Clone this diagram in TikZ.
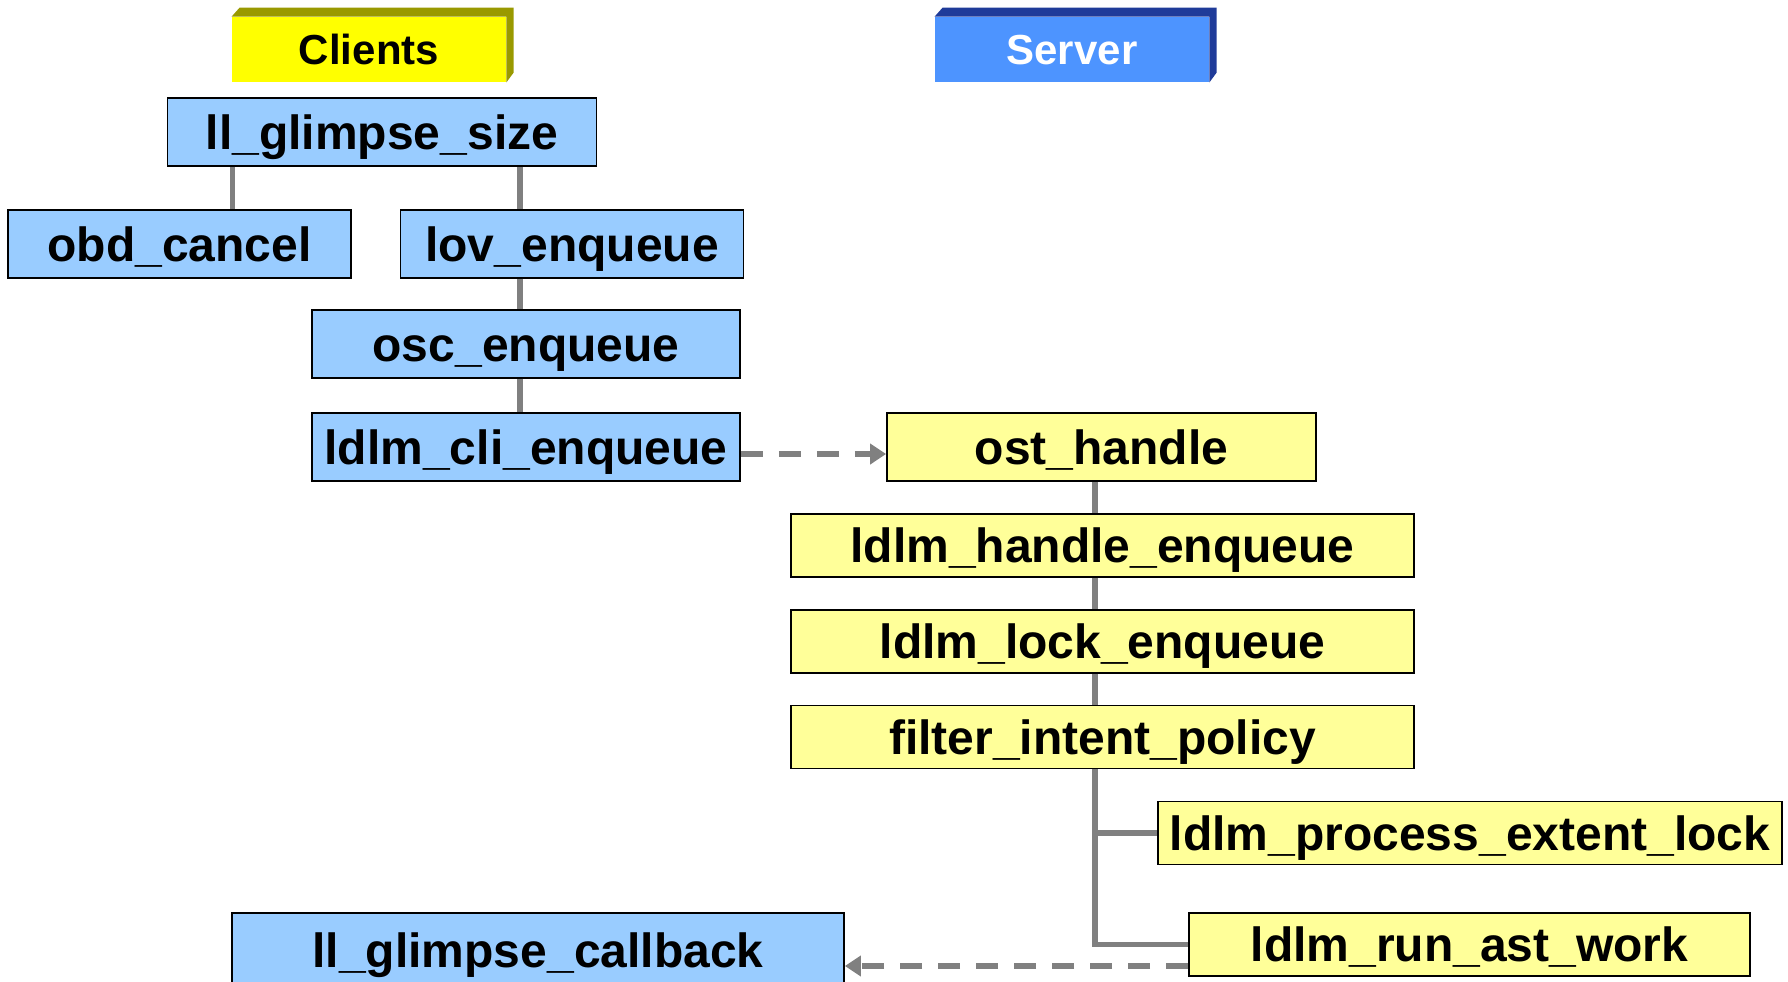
\documentclass[tikz,border=0pt]{standalone}
\usepackage{fontspec}
\setmainfont{Liberation Sans}
\usetikzlibrary{arrows.meta}
\definecolor{cliblue}{HTML}{99CCFF}
\definecolor{srvyellow}{HTML}{FFFF99}
\definecolor{hdyellow}{HTML}{FFFF00}
\definecolor{hdolive}{HTML}{999900}
\definecolor{hdblue}{HTML}{4D94FF}
\definecolor{hdnavy}{HTML}{1F3B99}
\definecolor{linkgray}{HTML}{808080}
\begin{document}
\begin{tikzpicture}[x=0.5pt,y=-0.5pt,
  fn/.style={draw=black,line width=0.9pt,font=\fontsize{24}{28}\selectfont\bfseries,text height=17.2pt,text depth=0pt,inner sep=0pt,minimum height=34pt},
  cli/.style={fn,fill=cliblue},
  srv/.style={fn,fill=srvyellow,minimum height=31.5pt},
  hdr/.style={font=\fontsize{21}{25}\selectfont\bfseries,text height=15pt,text depth=0pt,inner sep=0pt,minimum height=32.5pt,minimum width=137pt},
  link/.style={linkgray,line width=2.8pt},
  call/.style={linkgray,line width=2.8pt,dash pattern=on 11pt off 8pt,-{Triangle[length=8pt,width=10pt]}}]
\useasboundingbox (0,0) rectangle (1788,981);

% Headers, with a bevelled back edge.
\node[hdr,fill=hdyellow] (clients) at (369,49.5) {Clients};
\fill[hdolive] (clients.north west) -- ++(8,-9) -- ++(274,0) -- ++(0,65) -- (clients.south east) -- (clients.north east) -- cycle;
\node[hdr,fill=hdblue,text=white] (server) at (1072,49.5) {Server};
\fill[hdnavy] (server.north west) -- ++(8,-9) -- ++(274,0) -- ++(0,65) -- (server.south east) -- (server.north east) -- cycle;

% Client side.
\node[cli,minimum width=214.5pt] (size) at (382,132) {ll\_glimpse\_size};
\node[cli,minimum width=171.5pt] (obd) at (179.5,244) {obd\_cancel};
\node[cli,minimum width=171.5pt] (lov) at (572,244) {lov\_enqueue};
\node[cli,minimum width=214pt] (osc) at (526,344) {osc\_enqueue};
\node[cli,minimum width=214pt] (clienq) at (526,447) {ldlm\_cli\_enqueue};
\node[cli,minimum width=306pt,minimum height=37pt] (callback) at (538,950) {ll\_glimpse\_callback};

% Server side.
\node[srv,minimum width=214.5pt,minimum height=34pt] (ost) at (1101.5,447) {ost\_handle};
\node[srv,minimum width=311.5pt] (handle) at (1102.5,545.5) {ldlm\_handle\_enqueue};
\node[srv,minimum width=311.5pt] (lockenq) at (1102.5,641.5) {ldlm\_lock\_enqueue};
\node[srv,minimum width=311.5pt] (filter) at (1102.5,737) {filter\_intent\_policy};
\node[srv,minimum width=312pt] (extent) at (1470,833) {ldlm\_process\_extent\_lock};
\node[srv,minimum width=280.5pt] (astwork) at (1469.5,944.5) {ldlm\_run\_ast\_work};

% Call tree lines.
\coordinate (obdtap) at (232.6,0);
\coordinate (clitap) at (520,0);
\coordinate (srvtap) at (1095,0);
\draw[link] (size.south -| obdtap) -- (obd.north -| obdtap);
\draw[link] (size.south -| clitap) -- (lov.north -| clitap);
\draw[link] (lov.south -| clitap) -- (osc.north -| clitap);
\draw[link] (osc.south -| clitap) -- (clienq.north -| clitap);
\draw[link] (ost.south -| srvtap) -- (handle.north -| srvtap);
\draw[link] (handle.south -| srvtap) -- (lockenq.north -| srvtap);
\draw[link] (lockenq.south -| srvtap) -- (filter.north -| srvtap);
\draw[link] (filter.south -| srvtap) |- (extent.west);
\draw[link] (filter.south -| srvtap) |- (astwork.west);

% RPCs between client and server.
\draw[call] ([yshift=-3.5pt]clienq.east) -- ([yshift=-3.5pt]ost.west);
\coordinate (back) at ([yshift=-10.75pt]astwork.west);
\draw[call] (back) -- (back -| callback.east);
\end{tikzpicture}
\end{document}
